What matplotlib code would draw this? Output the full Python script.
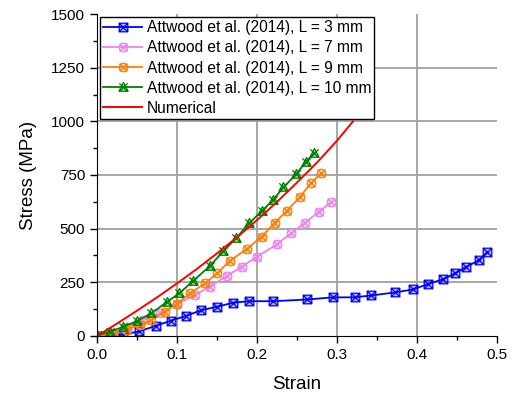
import numpy as np
import matplotlib
matplotlib.use("Agg")
import matplotlib.pyplot as plt
from matplotlib.path import Path

plt.rcParams['font.family'] = ['Liberation Sans', 'DejaVu Sans']

# ---- data ----
strain_3 = [0.0, 0.015, 0.033, 0.053, 0.074, 0.092, 0.111, 0.130, 0.150, 0.170, 0.190,
            0.220, 0.263, 0.295, 0.322, 0.343, 0.373, 0.395, 0.414, 0.433, 0.4475,
            0.461, 0.477, 0.488]
stress_3 = [0, 2, 6, 22, 48, 71, 93, 120, 136, 155, 162,
            162, 170, 180, 180, 189, 203, 217, 242, 265, 292,
            321, 352, 391]

strain_7 = [0.0, 0.02, 0.037, 0.058, 0.079, 0.100, 0.1225, 0.141, 0.162, 0.181,
            0.200, 0.2246, 0.2425, 0.260, 0.2775, 0.2925]
stress_7 = [0, 12, 40, 75, 106, 149, 191, 230, 279, 323,
            369, 427, 478, 528, 579, 623]

strain_9 = [0.0, 0.02, 0.037, 0.054, 0.068, 0.085, 0.0996, 0.116, 0.135, 0.150,
            0.166, 0.187, 0.206, 0.222, 0.237, 0.254, 0.267, 0.280]
stress_9 = [0, 10, 30, 51, 75, 113, 149, 199, 245, 292,
            350, 405, 463, 528, 582, 649, 711, 758]

strain_10 = [0.0, 0.016, 0.033, 0.05, 0.068, 0.088, 0.103, 0.120, 0.141, 0.158,
             0.174, 0.190, 0.206, 0.220, 0.233, 0.249, 0.261, 0.2717]
stress_10 = [3, 20, 43, 70, 106, 160, 199, 256, 326, 395,
             456, 525, 582, 633, 693, 753, 812, 851]

strain_num = [0.0, 0.025, 0.05, 0.075, 0.1, 0.125, 0.15, 0.175, 0.2, 0.225,
              0.25, 0.275, 0.3, 0.32]
stress_num = [0, 58, 118, 180, 245, 313, 385, 460, 540, 625,
              715, 808, 910, 1000]

labels = ["Attwood et al. (2014), L = 3 mm",
          "Attwood et al. (2014), L = 7 mm",
          "Attwood et al. (2014), L = 9 mm",
          "Attwood et al. (2014), L = 10 mm",
          "Numerical"]

# ---- custom markers ----
def xpath():
    return Path([(-0.5, -0.5), (0.5, 0.5), (-0.5, 0.5), (0.5, -0.5)],
                [Path.MOVETO, Path.LINETO, Path.MOVETO, Path.LINETO])

sq = Path([(-0.5, -0.5), (0.5, -0.5), (0.5, 0.5), (-0.5, 0.5), (-0.5, -0.5)],
          [Path.MOVETO, Path.LINETO, Path.LINETO, Path.LINETO, Path.CLOSEPOLY])
circ = Path(Path.unit_circle().vertices * 0.55, Path.unit_circle().codes)
tri = Path([(0, 0.6), (-0.55, -0.45), (0.55, -0.45), (0, 0.6)],
           [Path.MOVETO, Path.LINETO, Path.LINETO, Path.CLOSEPOLY])

m_sq = Path.make_compound_path(sq, xpath())
m_circ = Path.make_compound_path(circ, xpath())
m_tri = Path.make_compound_path(tri, xpath())

fig = plt.figure(figsize=(5.12, 3.97), dpi=100)
ax = fig.add_axes([0.1895, 0.1537, 0.7812, 0.811])

# grid (drawn manually so no line sits on the top edge)
for gx in [0.1, 0.2, 0.3, 0.4]:
    ax.axvline(gx, color='#a0a0a0', lw=1.3, zorder=0)
for gy in [250, 500, 750, 1000, 1250]:
    ax.axhline(gy, color='#a0a0a0', lw=1.3, zorder=0)

ms = 6.2
ax.plot(strain_3, stress_3, color='#0000ff', lw=1.3, marker=m_sq, ms=ms,
        mfc=(0, 0, 1, 0.3), mec='#0000ff', mew=0.9, label=labels[0])
ax.plot(strain_7, stress_7, color='#ee82ee', lw=1.3, marker=m_circ, ms=ms,
        mfc=(0.93, 0.51, 0.93, 0.3), mec='#ee82ee', mew=0.9, label=labels[1])
ax.plot(strain_9, stress_9, color='#ff8000', lw=1.3, marker=m_circ, ms=ms,
        mfc=(1, 0.5, 0, 0.3), mec='#ff8000', mew=0.9, label=labels[2])
ax.plot(strain_10, stress_10, color='#008000', lw=1.3, marker=m_tri, ms=ms + 1,
        mfc=(0, 0.5, 0, 0.3), mec='#008000', mew=0.9, label=labels[3])
ax.plot(strain_num, stress_num, color='#ff0000', lw=1.4, label=labels[4])

ax.set_xlim(0, 0.5)
ax.set_ylim(0, 1500)
ax.set_xticks([0.0, 0.1, 0.2, 0.3, 0.4, 0.5])
ax.set_xticklabels(["0.0", "0.1", "0.2", "0.3", "0.4", "0.5"])
ax.set_yticks([0, 250, 500, 750, 1000, 1250, 1500])
ax.set_xticks(np.arange(0.05, 0.5, 0.1), minor=True)
ax.set_yticks(np.arange(125, 1500, 250), minor=True)
ax.tick_params(which='major', direction='out', length=5, width=1, labelsize=11)
ax.tick_params(which='minor', direction='out', length=3, width=1)
ax.spines['top'].set_visible(False)
ax.spines['right'].set_visible(False)

ax.set_xlabel("Strain", fontsize=13.5, labelpad=10)
ax.set_ylabel("Stress (MPa)", fontsize=13.5, labelpad=10)

leg = ax.legend(loc='upper left', fontsize=11.2, frameon=True, fancybox=False,
                edgecolor='black', framealpha=1, borderpad=0.2, labelspacing=0.33,
                handlelength=2.5, handletextpad=0.3, borderaxespad=0.2)
leg.get_frame().set_linewidth(1.0)
leg.set_zorder(10)

fig.savefig("out.png", dpi=100)
